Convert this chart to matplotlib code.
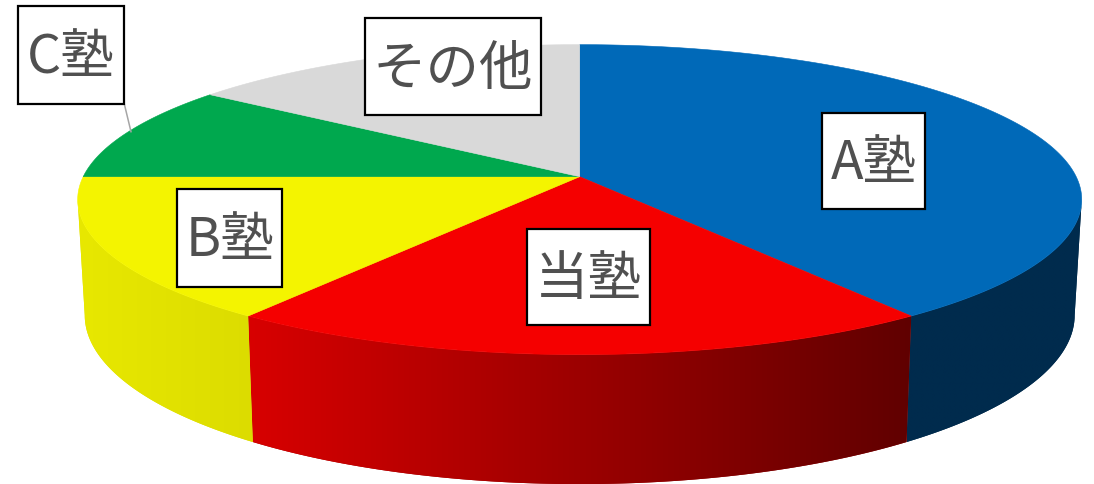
import numpy as np
import matplotlib
matplotlib.use("Agg")
import matplotlib.pyplot as plt
from matplotlib.colors import to_rgb
from matplotlib.patches import Polygon, Rectangle

plt.rcParams['font.family'] = ['Noto Sans CJK JP', 'DejaVu Sans']

labels = ['A塾', '当塾', 'B塾', 'C塾', 'その他']
shares = [40, 20, 15, 10, 15]
top_colors = ['#0069b8', '#f50000', '#f4f400', '#00a84e', '#d9d9d9']
wall_left = ['#002b4d', '#d80000', '#e8e800', '#008040', '#b0b0b0']
wall_right = ['#002b4d', '#600000', '#dcdc00', '#008040', '#b0b0b0']
label_boxes = [(822, 113, 925, 209), (527, 229, 650, 325), (177, 189, 282, 287),
               (18, 6, 124, 104), (365, 18, 541, 115)]

K = 0.148
CX = 579.7
TOP = dict(a=496.5, b=151.6, y0=177.0)
BOT = dict(a=489.5, b=165.2, y0=290.5)


def project(theta, plane):
    """Clockwise angle from 12 o'clock to image position, with perspective."""
    u, v = np.sin(theta), np.cos(theta)
    d = 1 + K * v
    return CX + plane['a'] * u / d, plane['y0'] - plane['b'] * v / d


fig = plt.figure(figsize=(10.94, 4.85), dpi=100)
ax = fig.add_axes([0, 0, 1, 1])
ax.axis('off')

edges = np.deg2rad(np.cumsum([0] + shares) * 3.6)
th_lo, th_hi = np.arccos(-K), 2 * np.pi - np.arccos(-K)

for i in range(len(shares)):
    a0, a1 = max(edges[i], th_lo), min(edges[i + 1], th_hi)
    if a1 <= a0:
        continue
    th = np.linspace(a0, a1, 200)
    xt, yt = project(th, TOP)
    xb, yb = project(th, BOT)
    outline = np.vstack([np.column_stack([xt, yt]), np.column_stack([xb, yb])[::-1]])
    c0, c1 = np.array(to_rgb(wall_left[i])), np.array(to_rgb(wall_right[i]))
    # antialiased base shape below the gradient
    base = Polygon(outline, closed=True, fc=(c0 + c1) / 2, ec='none', zorder=1.5)
    ax.add_patch(base)
    xl, xr = outline[:, 0].min(), outline[:, 0].max()
    yl, yr = outline[:, 1].min(), outline[:, 1].max()
    ramp = np.linspace(0, 1, 256)[None, :, None]
    img = c0[None, None, :] + (c1 - c0)[None, None, :] * ramp
    im = ax.imshow(img, extent=(xl, xr, yr, yl), aspect='auto', zorder=2,
                   interpolation='bilinear')
    clip = Polygon(outline, closed=True, transform=ax.transData, fc='none', ec='none')
    ax.add_patch(clip)
    im.set_clip_path(clip)

for i in range(len(shares)):
    th = np.linspace(edges[i], edges[i + 1], 200)
    x, y = project(th, TOP)
    pts = np.vstack([[CX, TOP['y0']], np.column_stack([x, y])])
    ax.add_patch(Polygon(pts, closed=True, fc=top_colors[i], ec=top_colors[i],
                         lw=0.4, zorder=3))

# leader line of the C label
cbox = label_boxes[3]
ax.plot([cbox[2], cbox[2] + 7], [cbox[3] - 1, cbox[3] + 28], color='#a6a6a6', lw=1.1, zorder=3.5)

for name, (x0, y0, x1, y1) in zip(labels, label_boxes):
    ax.add_patch(Rectangle((x0, y0), x1 - x0, y1 - y0, fc='white', ec='black',
                           lw=1.6, zorder=4))
    ax.text((x0 + x1) / 2, (y0 + y1) / 2 + 2, name, ha='center', va='center',
            fontsize=38.5, color='#505050', zorder=5)

ax.set_xlim(0, 1094)
ax.set_ylim(484.3, -0.7)
fig.savefig('out.png', dpi=100, facecolor='white')
